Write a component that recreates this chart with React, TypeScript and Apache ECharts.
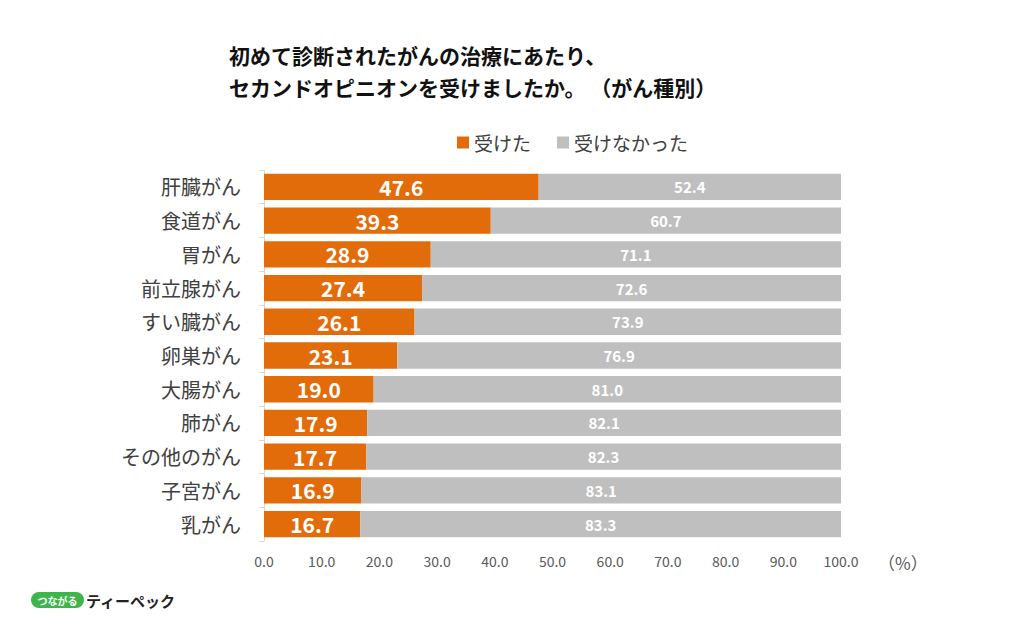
import React, { useEffect, useRef } from "react";
import * as echarts from "echarts";

const categories = ["肝臓がん", "食道がん", "胃がん", "前立腺がん", "すい臓がん", "卵巣がん", "大腸がん", "肺がん", "その他のがん", "子宮がん", "乳がん"];
const received = [47.6, 39.3, 28.9, 27.4, 26.1, 23.1, 19.0, 17.9, 17.7, 16.9, 16.7];
const notReceived = [52.4, 60.7, 71.1, 72.6, 73.9, 76.9, 81.0, 82.1, 82.3, 83.1, 83.3];
const seriesNames = ["受けた", "受けなかった"];
const titleText = "初めて診断されたがんの治療にあたり、\nセカンドオピニオンを受けましたか。 （がん種別）";

const FONT = '"Noto Sans CJK JP", "Noto Sans", sans-serif';

export default function App() {
  const ref = useRef<HTMLDivElement>(null);
  useEffect(() => {
    const chart = echarts.init(ref.current!, null, { renderer: "svg" });
    chart.setOption({
      animation: false,
      backgroundColor: "#ffffff",
      textStyle: { fontFamily: FONT },
      title: {
        text: titleText,
        left: 224,
        top: 34,
        textStyle: { fontSize: 21, fontWeight: "bold", color: "#111", lineHeight: 32, fontFamily: FONT },
      },
      legend: {
        data: seriesNames,
        left: 452,
        top: 128,
        itemWidth: 12,
        itemHeight: 12,
        itemGap: 26,
        icon: "rect",
        textStyle: { fontSize: 19, color: "#404040", fontFamily: FONT },
      },
      grid: { left: 264, right: 183, top: 170, bottom: 86, containLabel: false },
      xAxis: {
        type: "value",
        min: 0,
        max: 100,
        interval: 10,
        axisLine: { show: false },
        axisTick: { show: false },
        splitLine: { show: false },
        axisLabel: {
          formatter: (v: number) => v.toFixed(1),
          fontSize: 14,
          color: "#595959",
          margin: 13,
          fontFamily: FONT,
        },
      },
      yAxis: {
        type: "category",
        data: categories,
        inverse: true,
        axisLine: { show: true, lineStyle: { color: "#d9d9d9" } },
        axisTick: { show: true, length: 5, lineStyle: { color: "#d9d9d9" } },
        axisLabel: { fontSize: 20, color: "#404040", margin: 23, fontFamily: FONT },
      },
      series: [
        {
          name: seriesNames[0],
          type: "bar",
          stack: "t",
          data: received,
          barWidth: "78%",
          itemStyle: { color: "#E36C0A" },
          label: {
            show: true,
            position: "inside",
            formatter: (p: any) => p.value.toFixed(1),
            color: "#fff",
            fontSize: 21,
            fontWeight: "bold",
            fontFamily: FONT,
          },
        },
        {
          name: seriesNames[1],
          type: "bar",
          stack: "t",
          data: notReceived,
          barWidth: "78%",
          itemStyle: { color: "#BFBFBF" },
          label: {
            show: true,
            position: "inside",
            formatter: (p: any) => p.value.toFixed(1),
            color: "#fff",
            fontSize: 15,
            fontWeight: "bold",
            fontFamily: FONT,
          },
        },
      ],
      graphic: [
        {
          type: "text",
          x: 878,
          y: 562,
          style: { text: "（%）", fontSize: 17, fill: "#595959", verticalAlign: "middle", fontFamily: FONT },
        },
        {
          type: "rect",
          shape: { x: 31, y: 592, width: 53, height: 16, r: 8 },
          style: { fill: "#3DB54A" },
        },
        {
          type: "text",
          x: 57.5,
          y: 600,
          style: { text: "つながる", fontSize: 10, fontWeight: "bold", fill: "#fff", align: "center", verticalAlign: "middle", fontFamily: FONT },
        },
        {
          type: "text",
          x: 86,
          y: 600,
          style: { text: "ティーペック", fontSize: 15, fontWeight: "bold", fill: "#222", verticalAlign: "middle", fontFamily: FONT },
        },
      ],
    });
    return () => chart.dispose();
  }, []);
  return <div ref={ref} style={{ width: 1024, height: 627, position: "absolute", left: 0, top: 0 }} />;
}
